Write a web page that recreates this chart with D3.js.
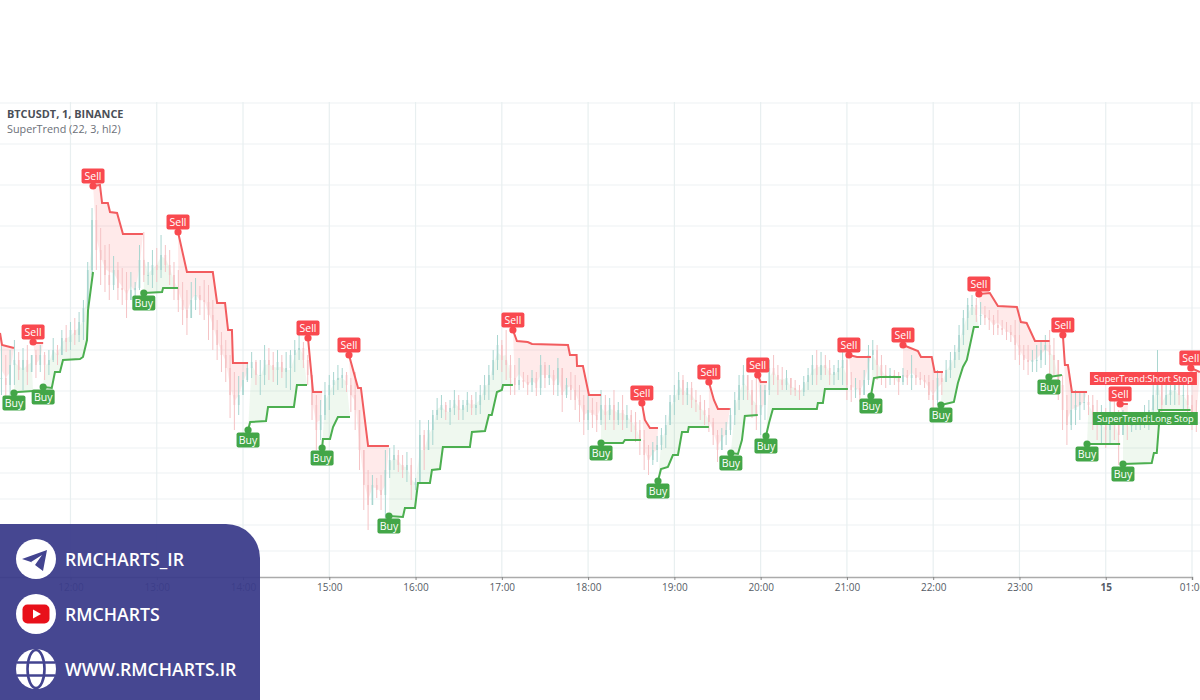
<!DOCTYPE html>
<html>
<head>
<meta charset="utf-8">
<title>BTCUSDT SuperTrend</title>
<script src="https://cdn.jsdelivr.net/npm/d3@7"></script>
<style>
  html, body { margin: 0; background: #fff; }
  svg { display: block; font-family: "Open Sans", sans-serif; }
</style>
</head>
<body>
<div id="chart"></div>
<script>
// no price scale in the picture, so prices are plain points
// time is minutes after 11:00, one candle every 3 minutes from minute 12
const firstCandle = 12
const candleStep = 3

const highs = [
  255,245,250,260,248,252,255,245,250,255,
  248,250,262,255,270,275,278,282,288,300,
  338,392,395,372,355,356,344,338,332,328,
  328,318,355,368,338,350,352,365,355,350,
  338,330,318,310,318,322,314,320,315,300,
  280,268,260,245,228,224,228,238,248,240,
  240,255,252,248,250,245,248,250,260,265,
  258,245,215,205,200,218,225,228,235,232,
  228,222,228,180,150,130,125,122,125,150,
  152,155,150,145,148,142,122,180,170,180,
  190,202,205,198,200,210,205,200,208,205,
  208,215,225,235,250,265,260,270,245,235,
  242,228,225,230,228,245,238,235,230,242,
  225,222,228,225,215,205,205,202,198,210,
  205,202,210,198,205,195,190,188,180,170,
  155,158,164,172,185,205,215,228,225,218,
  218,210,205,200,192,182,170,172,178,192,
  208,225,235,225,220,222,215,215,240,245,
  235,233,230,222,220,215,224,232,245,250,
  248,245,240,235,240,255,248,228,222,220,
  230,255,260,255,245,235,232,230,228,232,
  230,245,232,228,225,225,220,230,228,240,
  248,255,275,290,302,305,302,298,294,290,
  285,290,280,278,275,280,265,255,255,250,
  255,260,265,270,262,240,225,205,210,210,
  208,208,205,205,200,195,192,205,200,190,
  190,185,185,182,188,195,200,215,250,215,
  215,220,225,215,220,215,205,200
]
const lows = [
  205,200,205,215,220,210,215,230,222,228,
  220,225,238,235,245,248,250,255,258,260,
  295,325,330,315,308,300,310,300,295,282,
  300,298,310,318,315,312,318,322,328,315,
  300,288,275,265,282,290,285,280,260,250,
  240,228,218,182,170,185,208,218,222,215,
  205,215,220,218,215,222,212,210,228,240,
  232,215,180,150,160,180,190,205,210,212,
  208,188,170,130,90,70,100,102,90,80,
  122,130,128,122,118,100,110,120,130,150,
  155,180,182,180,175,185,180,180,188,185,
  185,186,200,200,220,230,228,220,205,205,
  210,212,205,208,204,205,212,215,205,204,
  188,202,200,190,178,165,170,172,168,175,
  170,180,170,175,170,172,168,158,145,130,
  125,135,138,150,152,180,185,200,195,195,
  192,188,180,175,168,155,138,150,155,165,
  175,190,200,200,182,170,165,180,205,215,
  205,210,210,205,204,200,204,210,215,215,
  220,225,215,215,220,215,200,198,202,198,
  205,215,230,220,215,212,215,215,205,215,
  215,210,215,215,212,200,190,195,205,218,
  222,232,240,255,270,285,278,275,275,270,
  265,265,265,260,258,240,235,230,225,228,
  228,232,235,225,225,200,170,155,170,175,
  180,190,185,170,160,155,152,155,160,135,
  170,160,168,170,170,172,170,175,190,180,
  195,195,195,195,190,180,170,168
]
const closes = [
  222,215,235,240,230,240,228,245,235,245,
  235,240,250,245,262,258,270,265,278,292,
  330,380,350,340,325,315,330,312,310,300,
  310,312,340,325,325,335,330,345,335,325,
  312,300,290,282,300,305,300,298,285,270,
  255,245,232,205,195,205,220,232,238,225,
  225,240,235,230,238,228,232,245,250,252,
  240,225,195,170,185,205,215,220,222,225,
  215,205,190,150,115,95,115,110,105,130,
  140,145,135,130,135,115,118,165,150,170,
  185,190,195,188,192,200,190,195,200,192,
  195,205,215,225,240,255,240,235,222,215,
  220,218,215,222,212,235,222,225,215,232,
  205,215,210,200,195,180,190,185,180,195,
  185,195,180,190,180,185,178,170,160,145,
  140,150,155,165,175,198,205,220,205,212,
  200,198,190,185,178,165,150,165,170,185,
  200,215,225,210,195,185,195,210,232,225,
  220,215,222,212,210,208,218,225,235,225,
  235,232,225,228,232,240,215,210,212,205,
  220,245,250,235,225,222,225,222,218,225,
  222,225,222,220,218,205,200,222,218,230,
  240,248,265,282,295,295,285,285,282,280,
  275,272,270,268,265,255,245,240,238,240,
  240,250,255,245,240,215,190,175,190,195,
  198,198,195,185,175,175,170,185,180,165,
  178,175,175,176,180,185,190,205,225,195,
  205,210,215,205,205,195,185,180
]

// short stop runs, first point of each carries a Sell signal (the first one starts off screen)
const sellRuns = [
  [[11,267],[12.4,255],[20.7,252]],
  [[34,258],[36,257],[41,257]],
  [[75.7,414],[80.5,415],[82,397],[86,397],[87.5,388],[92.4,387],[96.5,366],[110.4,366]],
  [[134.8,368],[141,328],[159,328],[162,297],[167.5,297],[169.6,270],[172.3,270],[173,237],[183.5,237]],
  [[225.2,262],[228.7,208],[235,208]],
  [[253.7,245],[260,212],[262,212],[267,154],[281.5,154]],
  [[367.7,270],[370.5,259],[378,258],[381,256],[406,255],[407.4,245],[412,245],[412.3,234],[416.4,234],[420.6,205],[429,205]],
  [[457.4,197],[459.5,180],[463,172],[468.6,172]],
  [[504,218],[507.5,200],[510.3,191],[518.6,191]],
  [[538,225],[540,218],[544.4,218]],
  [[601.4,245],[607,243],[616.7,243]],
  [[639,255],[649.4,249],[651.5,243],[659,243],[661,228],[666.8,228]],
  [[691.8,306],[699.4,307],[705,294],[718.2,293],[721,278],[725,277],[730.8,259],[741,259]],
  [[750.2,265],[751.6,235],[753.7,235],[756.5,208],[767,208]],
  [[790,196],[795.4,196]],
  [[839.2,232],[845.5,228]]
]
const sellSignalRuns = sellRuns.slice(1)

// long stop runs, first point of each carries a Buy signal
const buyRuns = [
  [[20.7,207],[23.5,208],[34,209]],
  [[41,213],[47,212],[49.2,228],[52.7,228],[54.8,240],[66.6,241],[68.7,243],[71.5,260],[72.2,290],[75.7,328]],
  [[111,307],[123.7,308],[124.4,312],[134.8,312]],
  [[183.5,170],[185,178],[196,179],[197.4,193],[215.4,193],[217.5,215],[224.5,215]],
  [[235,152],[235.6,161],[240.5,161],[242.6,173],[246,183],[254.4,183]],
  [[281.5,84],[291.2,83],[292.6,92],[299.6,92],[301.7,117],[310,117],[311.4,130],[317,131],[319,153],[337.8,153],[339.2,168],[348.3,169],[351,185],[353,185],[356.6,208],[360,210],[360.8,215],[367.7,215]],
  [[429,157],[444.2,157],[445.6,160],[456.8,160]],
  [[468.6,119],[470.7,131],[475.5,133],[479,145],[482.5,145],[485.3,168],[489.4,168],[490,173],[504,173]],
  [[519.3,147],[524.2,146],[527,160],[529,184],[538,185]],
  [[543.7,164],[545.8,177],[548.5,191],[579.1,191],[579.8,197],[583.3,197],[584.7,211],[600.7,211]],
  [[616.7,204],[618.8,222],[623,223],[637.6,223]],
  [[665.4,195],[674.4,198],[677.2,217],[680.7,233],[683.4,240],[688.3,273],[691.8,273]],
  [[740.5,223],[749.5,225]],
  [[767,156],[790,156]],
  [[792,136],[812,137],[813.5,147],[815.5,147],[817,175],[817.2,190],[839,190]]
]

const gridLevels = [497,456,415,374,333,292,250,209,177,152,127,101,75,49]
const timeTicks = [60,120,180,240,300,360,420,480,540,600,660,720,780,840]
const timeLabels = ["12:00","13:00","14:00","15:00","16:00","17:00","18:00","19:00","20:00","21:00","22:00","23:00","15","01:00"]

const contactLabels = ["RMCHARTS_IR","RMCHARTS","WWW.RMCHARTS.IR"]

const red = "#f9494f"
const green = "#43a648"
const panelColor = "#3a3b8a"

const dimensions = {
  width: 1200,
  height: 700,
  paneTop: 102,
  paneBottom: 577,
}

const svg = d3.select("#chart")
  .append("svg")
  .attr("width", dimensions.width)
  .attr("height", dimensions.height)

const xScale = d3.scaleLinear()
  .domain([0, 840])
  .range([-15.8, 1192])
const yScale = d3.scaleLinear()
  .domain([23, 498])
  .range([dimensions.paneBottom, dimensions.paneTop])

const candles = highs.map((high, i) => ({
  t: firstCandle + i * candleStep,
  high,
  low: lows[i],
  close: closes[i],
  open: i ? closes[i - 1] : closes[i],
}))

// grid
svg.append("g").selectAll("line")
  .data(gridLevels)
  .join("line")
  .attr("x1", 0)
  .attr("x2", dimensions.width)
  .attr("y1", d => yScale(d))
  .attr("y2", d => yScale(d))
  .attr("stroke", "#eef2f4")
  .attr("stroke-width", 1.2)
svg.append("g").selectAll("line")
  .data(timeTicks)
  .join("line")
  .attr("x1", d => xScale(d))
  .attr("x2", d => xScale(d))
  .attr("y1", dimensions.paneTop)
  .attr("y2", dimensions.paneBottom)
  .attr("stroke", "#e8eff0")
  .attr("stroke-width", 1.2)

// shading between the stop and the middle of each candle
const shade = d3.line().x(d => xScale(d[0])).y(d => yScale(d[1]))
const shadePoints = run => {
  const start = run[0][0]
  const end = run[run.length - 1][0]
  const mids = candles
    .filter(c => c.t >= start && c.t <= end)
    .map(c => [c.t, (c.high + c.low) / 2])
  return run.concat(mids.reverse())
}
svg.append("g").selectAll("path")
  .data(sellRuns)
  .join("path")
  .attr("d", d => shade(shadePoints(d)) + "Z")
  .attr("fill", "rgba(255,82,82,0.12)")
svg.append("g").selectAll("path")
  .data(buyRuns)
  .join("path")
  .attr("d", d => shade(shadePoints(d)) + "Z")
  .attr("fill", "rgba(76,175,80,0.09)")

// candles
const candleColor = d => d.close >= d.open ? "#a9d6d0" : "#f5c3c5"
const candleGroup = svg.append("g")
candleGroup.selectAll("line")
  .data(candles)
  .join("line")
  .attr("x1", d => xScale(d.t))
  .attr("x2", d => xScale(d.t))
  .attr("y1", d => yScale(d.high))
  .attr("y2", d => yScale(d.low))
  .attr("stroke", candleColor)
  .attr("stroke-width", 1)
candleGroup.selectAll("rect")
  .data(candles)
  .join("rect")
  .attr("x", d => xScale(d.t) - 0.8)
  .attr("width", 1.6)
  .attr("y", d => yScale(Math.max(d.open, d.close)))
  .attr("height", d => Math.max(1, Math.abs(yScale(d.open) - yScale(d.close))))
  .attr("fill", candleColor)

// stop lines
svg.append("g").selectAll("path")
  .data(sellRuns)
  .join("path")
  .attr("d", d => shade(d))
  .attr("fill", "none")
  .attr("stroke", "#f25c5f")
  .attr("stroke-width", 2)
svg.append("g").selectAll("path")
  .data(buyRuns)
  .join("path")
  .attr("d", d => shade(d))
  .attr("fill", "none")
  .attr("stroke", "#4caf50")
  .attr("stroke-width", 2)

// Buy / Sell flags
const drawFlags = (runs, text, color, offset) => {
  const flag = svg.append("g").selectAll("g")
    .data(runs)
    .join("g")
    .attr("transform", d => `translate(${xScale(d[0][0])},${yScale(d[0][1])})`)
  flag.append("circle").attr("r", 3.6).attr("fill", color)
  flag.append("rect")
    .attr("x", -11.5)
    .attr("y", offset - 7.5)
    .attr("width", 23)
    .attr("height", 15)
    .attr("rx", 2)
    .attr("fill", color)
  flag.append("text")
    .attr("y", offset + 3.7)
    .attr("text-anchor", "middle")
    .attr("fill", "#fff")
    .style("font-size", "10.5px")
    .text(text)
}
drawFlags(sellSignalRuns, "Sell", red, -10)
drawFlags(buyRuns, "Buy", green, 10)

// last value labels
const stopLabels = [
  { text: "SuperTrend:Short Stop", color: red, t: 769, level: 221.5, w: 107 },
  { text: "SuperTrend:Long Stop", color: green, t: 771, level: 181.5, w: 105 },
]
const stopLabel = svg.append("g").selectAll("g")
  .data(stopLabels)
  .join("g")
  .attr("transform", d => `translate(${xScale(d.t)},${yScale(d.level)})`)
stopLabel.append("rect")
  .attr("y", -6.5)
  .attr("width", d => d.w)
  .attr("height", 13)
  .attr("fill", d => d.color)
stopLabel.append("text")
  .attr("x", d => d.w / 2)
  .attr("y", 3.3)
  .attr("text-anchor", "middle")
  .attr("fill", "#fff")
  .style("font-size", "9.3px")
  .text(d => d.text)

// time axis
const xAxis = d3.axisBottom(xScale)
  .tickValues(timeTicks)
  .tickFormat((d, i) => timeLabels[i])
  .tickSizeOuter(0)
  .tickSize(3)
  .tickPadding(4)
const axisGroup = svg.append("g")
  .attr("transform", `translate(0,${dimensions.paneBottom})`)
  .call(xAxis)
axisGroup.select(".domain").attr("stroke", "#ababab").attr("stroke-width", 1.6)
axisGroup.selectAll(".tick line").attr("stroke", "#888")
axisGroup.selectAll(".tick text")
  .attr("fill", "#555c66")
  .style("font-family", "'Open Sans', sans-serif")
  .style("font-size", "10px")
  .style("font-weight", (d, i) => timeLabels[i] === "15" ? 700 : 400)

// title block
svg.append("text")
  .attr("x", 7)
  .attr("y", 118)
  .attr("fill", "#4a4f57")
  .style("font-size", "10.9px")
  .style("font-weight", 700)
  .text("BTCUSDT, 1, BINANCE")
svg.append("text")
  .attr("x", 7)
  .attr("y", 133)
  .attr("fill", "#6b7078")
  .style("font-size", "10.8px")
  .text("SuperTrend (22, 3, hl2)")

// contact panel over the bottom left corner
svg.append("path")
  .attr("d", "M0,524H226A34,34 0 0 1 260,558V700H0Z")
  .attr("fill", panelColor)
  .attr("fill-opacity", 0.94)

const contactRows = svg.append("g").selectAll("g")
  .data(contactLabels)
  .join("g")
  .attr("transform", (d, i) => `translate(36,${559 + i * 55})`)
contactRows.append("circle").attr("r", 20).attr("fill", "#fff")
contactRows.append("text")
  .attr("x", 29)
  .attr("y", 6.5)
  .attr("fill", "#fff")
  .style("font-size", "17.7px")
  .style("font-weight", 600)
  .text(d => d)

contactRows.filter((d, i) => i === 0).append("path")
  .attr("d", "M11,-9L-14,0L-5,3L7,12Z")
  .attr("fill", "#434490")
contactRows.filter((d, i) => i === 0).append("path")
  .attr("d", "M-5,3L6,-4L-1,6L0,10Z")
  .attr("fill", "#fff")

const youtube = contactRows.filter((d, i) => i === 1)
youtube.append("rect")
  .attr("x", -13.5).attr("y", -9.5).attr("width", 27).attr("height", 19).attr("rx", 5)
  .attr("fill", "#e8101a")
youtube.append("path").attr("d", "M-3,-4.5L5,0L-3,4.5Z").attr("fill", "#fff")

const globe = contactRows.filter((d, i) => i === 2)
  .append("g")
  .attr("fill", "none")
  .attr("stroke", "#434490")
  .attr("stroke-width", 2.6)
globe.append("ellipse").attr("rx", 8.5).attr("ry", 19)
globe.append("line").attr("x1", -19).attr("x2", 19).attr("y1", -6.5).attr("y2", -6.5)
globe.append("line").attr("x1", -19).attr("x2", 19).attr("y1", 6.5).attr("y2", 6.5)
</script>
</body>
</html>
